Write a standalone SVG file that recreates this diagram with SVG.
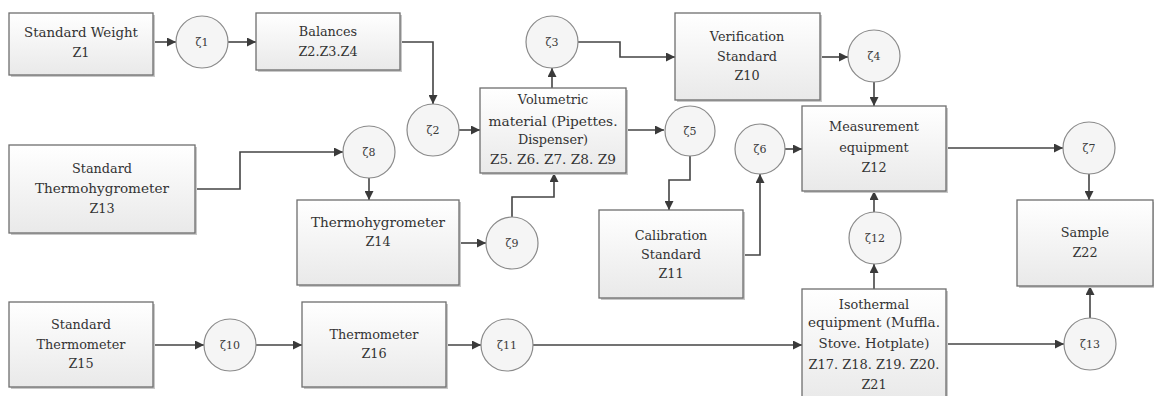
<svg xmlns="http://www.w3.org/2000/svg" width="1154" height="396" viewBox="0 0 1154 396">
<defs>
<linearGradient id="bg" x1="0" y1="0" x2="0" y2="1">
<stop offset="0" stop-color="#ffffff"/>
<stop offset="1" stop-color="#e9e9e9"/>
</linearGradient>
<marker id="ah" viewBox="0 0 10 10" refX="10" refY="5" markerWidth="10" markerHeight="9" markerUnits="userSpaceOnUse" orient="auto">
<path d="M0,0 L10,5 L0,10 z" fill="#3a3a3a"/>
</marker>
</defs>
<style>
.box{fill:url(#bg);stroke:#6e6e6e;stroke-width:1.3}
.sh{fill:#c8c8c8}
.cir{fill:#f5f5f5;stroke:#8a8a8a;stroke-width:1.2}
.t{font-family:"DejaVu Serif","Liberation Serif",serif;font-size:12.8px;fill:#333333;text-anchor:middle}
.c{font-family:"DejaVu Serif","Liberation Serif",serif;font-size:11px;fill:#3a3a3a;text-anchor:middle}
.ln{fill:none;stroke:#444;stroke-width:1.6;marker-end:url(#ah)}
</style>
<rect width="1154" height="396" fill="#ffffff"/>

<g id="connectors">
<path class="ln" d="M153,42 H176"/>
<path class="ln" d="M228,42 H256"/>
<path class="ln" d="M400,42 H433 V104"/>
<path class="ln" d="M459,130 H480"/>
<path class="ln" d="M552,88 V68"/>
<path class="ln" d="M578,42 H620 V57 H675"/>
<path class="ln" d="M820,57 H848"/>
<path class="ln" d="M874,82 V106"/>
<path class="ln" d="M626,130 H664"/>
<path class="ln" d="M690,156 V180 H669 V210"/>
<path class="ln" d="M743,255 H760 V174"/>
<path class="ln" d="M785,149 H802"/>
<path class="ln" d="M946,148 H1063"/>
<path class="ln" d="M1089,174 V200"/>
<path class="ln" d="M874,212 V191"/>
<path class="ln" d="M874,289 V264"/>
<path class="ln" d="M946,344 H1064"/>
<path class="ln" d="M1090,318 V286"/>
<path class="ln" d="M195,189 H240 V152 H343"/>
<path class="ln" d="M369,178 V200"/>
<path class="ln" d="M459,243 H486"/>
<path class="ln" d="M512,217 V197 H554 V173"/>
<path class="ln" d="M153,345 H204"/>
<path class="ln" d="M256,345 H302"/>
<path class="ln" d="M446,345 H481"/>
<path class="ln" d="M533,345 H802"/>
</g>

<g id="n-z1">
<rect class="sh" x="11" y="15" width="144" height="62"/>
<rect class="box" x="9" y="13" width="144" height="62"/>
<text class="t" x="81" y="37" textLength="114" lengthAdjust="spacingAndGlyphs">Standard Weight</text>
<text class="t" x="81" y="57">Z1</text>
</g>
<g id="n-c1"><circle class="cir" cx="202" cy="42" r="26"/><text class="c" x="202" y="46">ζ1</text></g>
<g id="n-balances">
<rect class="sh" x="258" y="15" width="144" height="57"/>
<rect class="box" x="256" y="13" width="144" height="57"/>
<text class="t" x="328" y="36">Balances</text>
<text class="t" x="328" y="56">Z2.Z3.Z4</text>
</g>
<g id="n-c2"><circle class="cir" cx="433" cy="130" r="26"/><text class="c" x="433" y="134">ζ2</text></g>
<g id="n-c3"><circle class="cir" cx="552" cy="42" r="26"/><text class="c" x="552" y="46">ζ3</text></g>
<g id="n-volumetric">
<rect class="sh" x="482" y="90" width="146" height="85"/>
<rect class="box" x="480" y="88" width="146" height="85"/>
<text class="t" x="553" y="104">Volumetric</text>
<text class="t" x="553" y="126" textLength="129" lengthAdjust="spacingAndGlyphs">material (Pipettes.</text>
<text class="t" x="553" y="144">Dispenser)</text>
<text class="t" x="553" y="164" textLength="126" lengthAdjust="spacingAndGlyphs">Z5. Z6. Z7. Z8. Z9</text>
</g>
<g id="n-verification">
<rect class="sh" x="677" y="15" width="145" height="87"/>
<rect class="box" x="675" y="13" width="145" height="87"/>
<text class="t" x="747" y="41">Verification</text>
<text class="t" x="747" y="61">Standard</text>
<text class="t" x="747" y="80">Z10</text>
</g>
<g id="n-c4"><circle class="cir" cx="874" cy="56" r="26"/><text class="c" x="874" y="60">ζ4</text></g>
<g id="n-c5"><circle class="cir" cx="690" cy="131" r="25"/><text class="c" x="690" y="135">ζ5</text></g>
<g id="n-c6"><circle class="cir" cx="760" cy="149" r="25"/><text class="c" x="760" y="153">ζ6</text></g>
<g id="n-measurement">
<rect class="sh" x="804" y="108" width="144" height="85"/>
<rect class="box" x="802" y="106" width="144" height="85"/>
<text class="t" x="874" y="131">Measurement</text>
<text class="t" x="874" y="152">equipment</text>
<text class="t" x="874" y="172">Z12</text>
</g>
<g id="n-c7"><circle class="cir" cx="1089" cy="148" r="26"/><text class="c" x="1089" y="152">ζ7</text></g>
<g id="n-sample">
<rect class="sh" x="1019" y="202" width="136" height="86"/>
<rect class="box" x="1017" y="200" width="136" height="86"/>
<text class="t" x="1085" y="237">Sample</text>
<text class="t" x="1085" y="257">Z22</text>
</g>
<g id="n-stdthermohygro">
<rect class="sh" x="11" y="147" width="186" height="88"/>
<rect class="box" x="9" y="145" width="186" height="88"/>
<text class="t" x="102" y="173">Standard</text>
<text class="t" x="102" y="193" textLength="134" lengthAdjust="spacingAndGlyphs">Thermohygrometer</text>
<text class="t" x="102" y="213">Z13</text>
</g>
<g id="n-c8"><circle class="cir" cx="369" cy="152" r="26"/><text class="c" x="369" y="156">ζ8</text></g>
<g id="n-thermohygro">
<rect class="sh" x="299" y="202" width="162" height="85"/>
<rect class="box" x="297" y="200" width="162" height="85"/>
<text class="t" x="378" y="227" textLength="134" lengthAdjust="spacingAndGlyphs">Thermohygrometer</text>
<text class="t" x="378" y="246">Z14</text>
</g>
<g id="n-c9"><circle class="cir" cx="512" cy="243" r="26"/><text class="c" x="512" y="247">ζ9</text></g>
<g id="n-calibration">
<rect class="sh" x="601" y="212" width="144" height="88"/>
<rect class="box" x="599" y="210" width="144" height="88"/>
<text class="t" x="671" y="240">Calibration</text>
<text class="t" x="671" y="259">Standard</text>
<text class="t" x="671" y="278">Z11</text>
</g>
<g id="n-c12"><circle class="cir" cx="875" cy="238" r="26"/><text class="c" x="875" y="242">ζ12</text></g>
<g id="n-isothermal">
<rect class="sh" x="804" y="291" width="144" height="112"/>
<rect class="box" x="802" y="289" width="144" height="112"/>
<text class="t" x="874" y="309">Isothermal</text>
<text class="t" x="874" y="327" textLength="132" lengthAdjust="spacingAndGlyphs">equipment (Muffla.</text>
<text class="t" x="874" y="348" textLength="111" lengthAdjust="spacingAndGlyphs">Stove. Hotplate)</text>
<text class="t" x="874" y="369" textLength="131" lengthAdjust="spacingAndGlyphs">Z17. Z18. Z19. Z20.</text>
<text class="t" x="874" y="389">Z21</text>
</g>
<g id="n-c13"><circle class="cir" cx="1090" cy="344" r="26"/><text class="c" x="1090" y="348">ζ13</text></g>
<g id="n-stdthermometer">
<rect class="sh" x="11" y="304" width="144" height="85"/>
<rect class="box" x="9" y="302" width="144" height="85"/>
<text class="t" x="81" y="329">Standard</text>
<text class="t" x="81" y="349">Thermometer</text>
<text class="t" x="81" y="368">Z15</text>
</g>
<g id="n-c10"><circle class="cir" cx="230" cy="345" r="26"/><text class="c" x="230" y="349">ζ10</text></g>
<g id="n-thermometer">
<rect class="sh" x="304" y="304" width="144" height="85"/>
<rect class="box" x="302" y="302" width="144" height="85"/>
<text class="t" x="374" y="339">Thermometer</text>
<text class="t" x="374" y="358">Z16</text>
</g>
<g id="n-c11"><circle class="cir" cx="507" cy="345" r="26"/><text class="c" x="507" y="349">ζ11</text></g>
</svg>
